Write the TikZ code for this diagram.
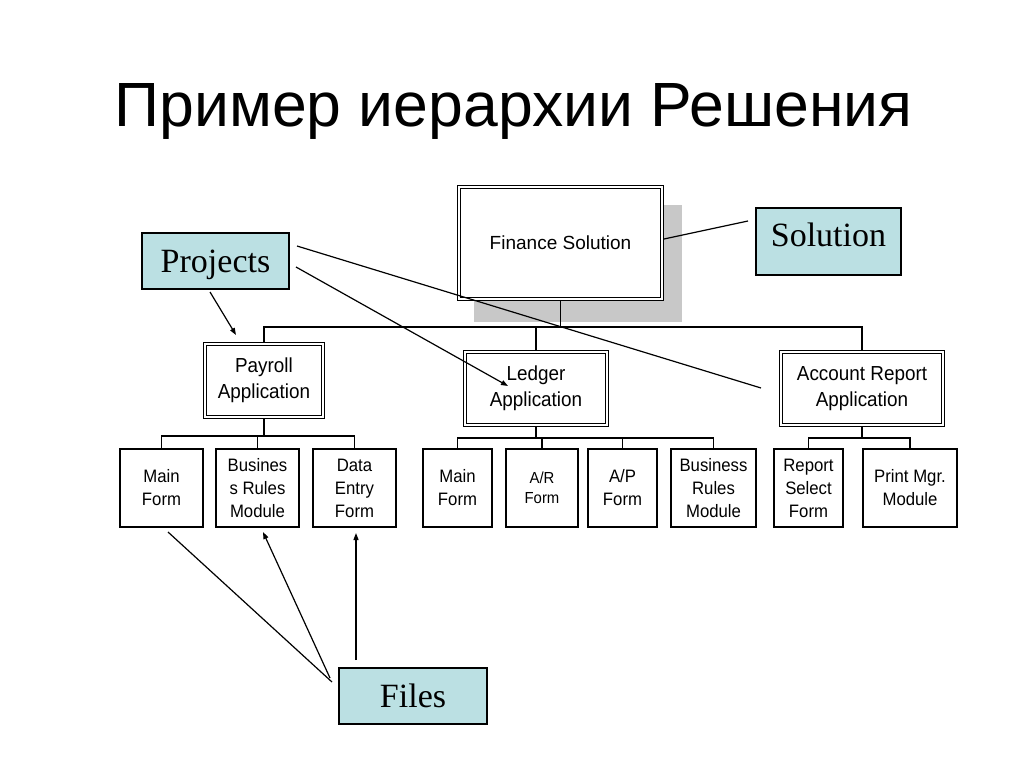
\documentclass[tikz,border=0pt]{standalone}
\usepackage{fontspec}
\setmainfont{Liberation Sans}
\newfontfamily\tnr{Liberation Serif}
\newfontfamily\narrowsans[FakeStretch=0.93]{Liberation Sans}
\usetikzlibrary{arrows.meta}
\definecolor{tagblue}{RGB}{187,224,227}
\definecolor{shadowgray}{RGB}{200,200,200}
\begin{document}
\begin{tikzpicture}[x=1pt,y=-1pt,
  app/.style={draw, fill=white, line width=1.5pt, double=white, double distance=1.5pt,
    inner sep=0pt, outer sep=2.2pt, align=center, font=\narrowsans\fontsize{20.3}{26}\selectfont},
  leaf/.style={draw, fill=white, line width=1.6pt, inner sep=0pt, outer sep=0.8pt,
    minimum height=78pt, align=center, font=\narrowsans\fontsize{18}{23}\selectfont},
  tag/.style={draw, fill=tagblue, line width=1.6pt, inner sep=0pt, outer sep=0.8pt,
    font=\tnr\fontsize{34}{38}\selectfont},
  tree/.style={line width=1.6pt},
  link/.style={line width=1.2pt},
  ptr/.style={line width=1.2pt, -{Triangle[length=7pt,width=5pt]}}]
\fill[white] (0,0) rectangle (1024,768);
\useasboundingbox (0,0) rectangle (1024,768);

% title
\node[anchor=base, font=\fontsize{62.5}{70}\selectfont] (title) at (513.5,126) {Пример иерархии Решения};

% solution box with shadow
\fill[shadowgray] (474,205) rectangle (682,322);
\node[app, minimum width=203pt, minimum height=112pt, font=\fontsize{19}{24}\selectfont] (fin) at (560.5,243) {Finance Solution};

% applications
\node[app, minimum width=118pt, minimum height=73pt] (pay) at (264,380.5) {Payroll\\Application};
\node[app, minimum width=142pt, minimum height=73pt] (led) at (536,388.5) {Ledger\\Application};
\node[app, minimum width=162pt, minimum height=73pt] (acc) at (862,388.5) {Account Report\\Application};

% leaves
\node[leaf, minimum width=83pt] (pm) at (161.5,488) {Main\\Form};
\node[leaf, minimum width=83pt] (pb) at (257.5,488) {Busines\\s Rules\\Module};
\node[leaf, minimum width=83pt] (pd) at (354.5,488) {Data\\Entry\\Form};
\node[leaf, minimum width=69pt] (lm) at (457.5,488) {Main\\Form};
\node[leaf, minimum width=72pt, font=\narrowsans\fontsize{16}{20}\selectfont] (lr) at (542,488) {A/R\\Form};
\node[leaf, minimum width=69pt] (lp) at (622.5,488) {A/P\\Form};
\node[leaf, minimum width=85pt] (lb) at (713.5,488) {Business\\Rules\\Module};
\node[leaf, minimum width=69pt] (ar) at (808.5,488) {Report\\Select\\Form};
\node[leaf, minimum width=94pt] (ap) at (910,488) {Print Mgr.\\Module};

% tree connectors
\coordinate (busT) at (0,327);
\coordinate (busP) at (0,436);
\coordinate (busL) at (0,438);
\draw[tree] (fin.south) -- (fin.south |- busT);
\draw[tree] (pay.north) |- (acc.north |- busT) -- (acc.north);
\draw[tree] (led.north) -- (led.north |- busT);
\draw[tree] (pay.south) -- (pay.south |- busP);
\draw[tree] (pm.north) |- (pd.north |- busP) -- (pd.north);
\draw[tree] (pb.north) -- (pb.north |- busP);
\draw[tree] (led.south) -- (led.south |- busL);
\draw[tree] (lm.north) |- (lb.north |- busL) -- (lb.north);
\draw[tree] (lr.north) -- (lr.north |- busL);
\draw[tree] (lp.north) -- (lp.north |- busL);
\draw[tree] (acc.south) -- (acc.south |- busL);
\draw[tree] (ar.north) |- (ap.north |- busL) -- (ap.north);

% labels
\node[tag, minimum width=145pt, minimum height=67pt, text height=22.5pt, text depth=13.5pt] (sol) at (828.5,241.5) {Solution};
\node[tag, minimum width=147pt, minimum height=56pt, text height=29pt, text depth=7pt] (proj) at (215.5,261) {Projects};
\node[tag, minimum width=148pt, minimum height=56pt] (files) at (413,696) {Files};

% annotation connectors
\coordinate (solA) at (748,221);
\coordinate (finR) at (664,239);
\draw[link] (solA) -- (finR);

\coordinate (pjA) at (210,292);
\coordinate (pjAe) at (236,335);
\coordinate (pjB) at (296,267);
\coordinate (pjBe) at (508,386);
\coordinate (pjC) at (297,246);
\coordinate (pjCe) at (761,388);
\draw[ptr] (pjA) -- (pjAe);
\draw[ptr] (pjB) -- (pjBe);
\draw[link] (pjC) -- (pjCe);

\coordinate (fA) at (332,682);
\coordinate (fAe) at (168,532);
\coordinate (fB) at (330,678);
\coordinate (fBe) at (263,532);
\coordinate (fC) at (356,660);
\coordinate (fCe) at (356,533);
\draw[link] (fA) -- (fAe);
\draw[ptr] (fB) -- (fBe);
\draw[ptr] (fC) -- (fCe);
\end{tikzpicture}
\end{document}
